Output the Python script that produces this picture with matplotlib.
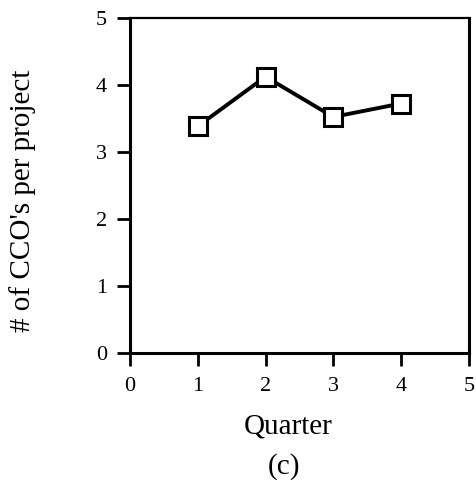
import matplotlib.pyplot as plt

quarters = [1, 2, 3, 4]
cco_per_project = [3.38, 4.12, 3.52, 3.72]
ticks = [0, 1, 2, 3, 4, 5]

plt.rcParams['font.family'] = ['Liberation Serif', 'DejaVu Serif']

fig = plt.figure(figsize=(4.76, 4.80), dpi=100)
ax = fig.add_axes([0.273, 0.265, 0.712, 0.698])

ax.plot(quarters, cco_per_project, color='black', linewidth=2.8,
        marker='s', markersize=13, markerfacecolor='white',
        markeredgecolor='black', markeredgewidth=2.2)

ax.set_xlim(0, 5)
ax.set_ylim(0, 5)
ax.set_xticks(ticks)
ax.set_yticks(ticks)

ax.tick_params(axis='both', direction='out', length=9.5, width=2, labelsize=16)
ax.tick_params(axis='x', pad=8)
ax.tick_params(axis='y', pad=7)

for side in ['left', 'bottom', 'right']:
    ax.spines[side].set_linewidth(2.2)
ax.spines['top'].set_linewidth(1.6)

ax.set_xlabel('Quarter', fontsize=21)
ax.xaxis.set_label_coords(0.468, -0.18)
ax.set_ylabel("# of CCO's per project", fontsize=21, va='center')
ax.yaxis.set_label_coords(-0.318, 0.455)
fig.text(0.597, 0.029, '(c)', fontsize=21, ha='center', va='center')

fig.savefig('out.png', dpi=100)
